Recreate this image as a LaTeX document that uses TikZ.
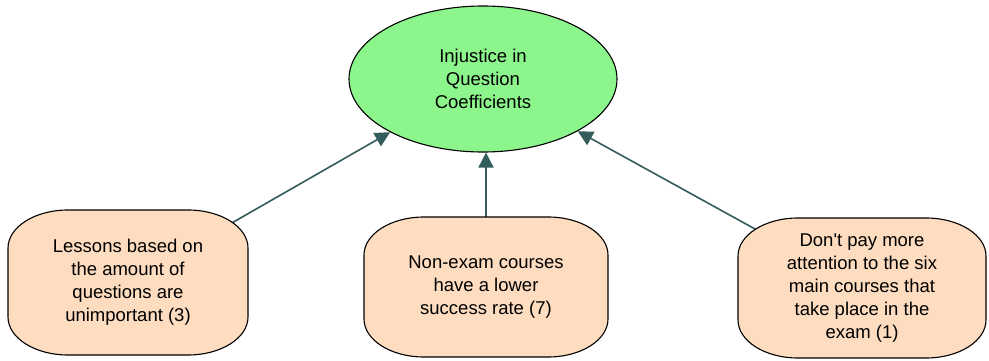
\documentclass[tikz,border=0pt]{standalone}
\usepackage{fontspec}
\setmainfont{Liberation Sans}
\usetikzlibrary{arrows.meta,shapes.geometric}
\pgfdeclarelayer{bg}
\pgfsetlayers{bg,main}
\definecolor{goalgreen}{HTML}{8CF68C}
\definecolor{peach}{HTML}{FDDCBF}
\definecolor{arrowteal}{HTML}{335C5C}
\newcommand{\peachshape}[4]{% x1, y1 (bottom), x2, y2 (top)
  \draw[boxshape] ({#1+60},#4) -- ({#3-60},#4)
    arc[start angle=90,end angle=0,x radius=60,y radius=38]
    -- (#3,{#2+38})
    arc[start angle=0,end angle=-90,x radius=60,y radius=38]
    -- ({#1+60},#2)
    arc[start angle=-90,end angle=-180,x radius=60,y radius=38]
    -- (#1,{#4-38})
    arc[start angle=180,end angle=90,x radius=60,y radius=38]
    -- cycle;}
\tikzset{
  boxshape/.style={draw=black,fill=peach,line width=1.1pt},
  boxtext/.style={align=center,inner sep=0pt,font=\fontsize{18.5}{23}\selectfont},
  goalnode/.style={ellipse,draw=black,fill=goalgreen,line width=1.1pt,
    minimum width=268pt,minimum height=146pt,inner sep=0pt,align=center,
    font=\fontsize{18.5}{23}\selectfont},
  link/.style={draw=arrowteal,line width=1.6pt,-{Triangle[width=15pt,length=15pt]}}
}
\begin{document}
\begin{tikzpicture}[x=1pt,y=1pt]
\useasboundingbox (0,0) rectangle (989,360);
\node[goalnode] (goal) at (483,281) {Injustice in\\Question\\Coefficients};
\peachshape{8}{5}{248}{150}
\node[boxtext] (lbox) at (128,77.5) {Lessons based on\\the amount of\\questions are\\unimportant (3)};
\peachshape{364}{3}{608}{143}
\node[boxtext] (mbox) at (486,73) {Non-exam courses\\have a lower\\success rate (7)};
\peachshape{738}{2}{986}{142}
\node[boxtext] (rbox) at (862,72) {Don\textquotesingle t pay more\\attention to the six\\main courses that\\take place in the\\exam (1)};
\begin{pgfonlayer}{bg}
\draw[link] (lbox.center) -- (goal);
\draw[link] (mbox.center) -- (mbox.center |- goal.south);
\draw[link] (rbox.center) -- (goal);
\end{pgfonlayer}
\end{tikzpicture}
\end{document}
